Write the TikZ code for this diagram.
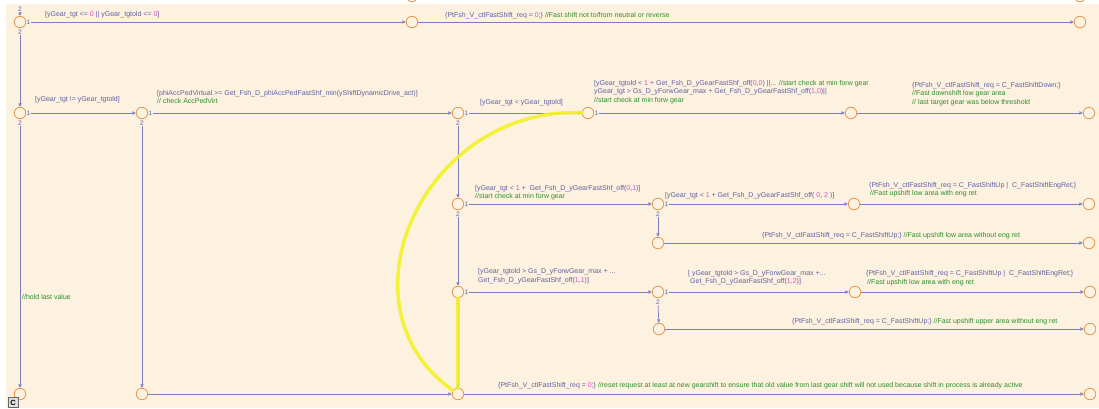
\documentclass[tikz,border=0pt]{standalone}
\usepackage{fontspec}
\setmainfont{Liberation Sans}
\usetikzlibrary{arrows.meta}
\definecolor{bgc}{HTML}{FDF2DF}
\definecolor{lc}{RGB}{125,125,190}
\definecolor{tc}{RGB}{95,95,165}
\definecolor{gc}{RGB}{45,140,45}
\definecolor{mc}{RGB}{230,70,210}
\definecolor{jc}{RGB}{228,150,80}
\definecolor{hlc}{RGB}{242,242,40}
\newcommand{\nm}[1]{\textcolor{mc}{#1}}
\newcommand{\cm}[1]{\textcolor{gc}{#1}}
\begin{document}
\begin{tikzpicture}[x=1pt,y=-1pt,
  jn/.style={circle,draw=jc,line width=0.8pt,minimum size=11.5pt,inner sep=0pt},
  tr/.style={draw=lc,line width=0.7pt,-{Triangle[open,length=3.5pt,width=3.2pt]}},
  hl/.style={draw=hlc,line width=3.5pt,line cap=round,opacity=0.9},
  port/.style={font=\fontsize{6.5}{6.5}\selectfont,text=tc,inner sep=0.6pt},
  lab/.style={font=\fontsize{7}{8.6}\selectfont,text=tc,anchor=west,inner sep=0pt,align=left},
]
\useasboundingbox (0,0) rectangle (1099,408);
\fill[white] (0,0) rectangle (1099,408);
\fill[bgc] (6,4) rectangle (1099,408);

% junctions
\node[jn] (A) at (20,22) {};
\node[jn] (X0) at (412,-4) {};
\node[jn] (X1) at (412,22) {};
\node[jn] (Xt) at (1080,-4) {};
\node[jn] (X2) at (1080,22) {};
\node[jn] (B) at (20,113) {};
\node[jn] (C) at (142,113) {};
\node[jn] (D) at (458,113) {};
\node[jn] (E) at (588,113) {};
\node[jn] (F) at (851,113) {};
\node[jn] (G) at (1089,113) {};
\node[jn] (L) at (458,204) {};
\node[jn] (M) at (658,204) {};
\node[jn] (N) at (854,204) {};
\node[jn] (O) at (1089,204) {};
\node[jn] (P) at (658,243) {};
\node[jn] (Q) at (1089,243) {};
\node[jn] (R) at (458,292) {};
\node[jn] (S) at (658,292) {};
\node[jn] (T) at (855,292) {};
\node[jn] (U) at (1090,292) {};
\node[jn] (V) at (659,329) {};
\node[jn] (W) at (1090,329) {};
\node[jn] (H) at (20,394) {};
\node[jn] (I) at (142,394) {};
\node[jn] (J) at (458,394) {};
\node[jn] (K) at (1090,394) {};

% port labels
\node[port] (top2) at (20,9) {2};
\node[port] (A1) at (28.5,22) {1};
\node[port] (A2) at (20,32) {2};
\node[port] (B1) at (28.5,113) {1};
\node[port] (B2) at (20,123) {2};
\node[port] (C1) at (150.5,113) {1};
\node[port] (C2) at (142,123) {2};
\node[port] (D1) at (466.5,113) {1};
\node[port] (D2) at (458,123) {2};
\node[port] (E1) at (596.5,113) {1};
\node[port] (L1) at (466.5,204) {1};
\node[port] (L2) at (458,214) {2};
\node[port] (M1) at (666.5,204) {1};
\node[port] (M2) at (658,214) {2};
\node[port] (R1) at (466.5,292) {1};
\node[port] (R2) at (458,302) {2};
\node[port] (S1) at (666.5,292) {1};
\node[port] (S2) at (658,302) {2};
\node[port] (J2) at (458,386) {2};

% transitions
\draw[tr] (top2) -- (A);
\draw[tr] (A1) -- (X1);
\draw[tr] (X1) -- (X2);
\draw[tr] (A2) -- (B);
\draw[tr] (B1) -- (C);
\draw[tr] (C1) -- (D);
\draw[tr] (D1) -- (E);
\draw[tr] (E1) -- (F);
\draw[tr] (F) -- (G);
\draw[tr] (B2) -- (H);
\draw[tr] (C2) -- (I);
\draw[tr] (I) -- (J);
\draw[tr] (J) -- (K);
\draw[tr] (D2) -- (L);
\draw[tr] (L1) -- (M);
\draw[tr] (M1) -- (N);
\draw[tr] (N) -- (O);
\draw[tr] (M2) -- (P);
\draw[tr] (P) -- (Q);
\draw[tr] (L2) -- (R);
\draw[tr] (R1) -- (S);
\draw[tr] (S1) -- (T);
\draw[tr] (T) -- (U);
\draw[tr] (S2) -- (V);
\draw[tr] (V) -- (W);
\draw[tr] (R2) -- (J);

% labels
\node[lab] (t1) at (45,15) {[yGear\_tgt <= \nm{0} || yGear\_tgtold <= \nm{0}]};
\node[lab] (t2) at (445,16) {\{PtFsh\_V\_ctlFastShift\_req = \nm{0};\} \cm{//Fast shift not to/from neutral or reverse}};
\node[lab] (t3) at (35,100) {[yGear\_tgt != yGear\_tgtold]};
\node[lab] (t4) at (157,97) {[phiAccPedVirtual >= Get\_Fsh\_D\_phiAccPedFastShf\_min(yShiftDynamicDrive\_act)]\\\cm{// check AccPedVirt}};
\node[lab] (t5) at (480,103) {[yGear\_tgt < yGear\_tgtold]};
\node[lab] (t6) at (594,92) {[yGear\_tgtold < \nm{1} + Get\_Fsh\_D\_yGearFastShf\_off(\nm{0},\nm{0}) ||... \cm{//start check at min forw gear}\\yGear\_tgt > Gs\_D\_yForwGear\_max + Get\_Fsh\_D\_yGearFastShf\_off(\nm{1},\nm{0})||\\\cm{//start check at min forw gear}};
\node[lab] (t7) at (912,94) {\{PtFsh\_V\_ctlFastShift\_req = C\_FastShiftDown;\}\\\cm{//Fast downshift low gear area}\\\cm{// last target gear was below threshold}};
\node[lab] (t8) at (22,297) {\cm{//hold last value}};
\node[lab] (t9) at (475,192.5) {[yGear\_tgt < \nm{1} +\ \ Get\_Fsh\_D\_yGearFastShf\_off(\nm{0},\nm{1})]\\\cm{//start check at min forw gear}};
\node[lab] (t10) at (665,196) {[yGear\_tgt < \nm{1} + Get\_Fsh\_D\_yGearFastShf\_off( \nm{0}, \nm{2} )]};
\node[lab] (t11) at (869,189.5) {\{PtFsh\_V\_ctlFastShift\_req = C\_FastShiftUp |\ \ C\_FastShiftEngRet;\}\\\hspace{1pt}\cm{//Fast upshift low area with eng ret}};
\node[lab] (t12) at (762,236) {\{PtFsh\_V\_ctlFastShift\_req = C\_FastShiftUp;\} \cm{//Fast upshift low area without eng ret}};
\node[lab] (t13) at (478,276) {[yGear\_tgtold > Gs\_D\_yForwGear\_max + ...\\Get\_Fsh\_D\_yGearFastShf\_off(\nm{1},\nm{1})]};
\node[lab] (t14) at (688,277.5) {[ yGear\_tgtold > Gs\_D\_yForwGear\_max +...\\\hspace{2pt}Get\_Fsh\_D\_yGearFastShf\_off(\nm{1},\nm{2})]};
\node[lab] (t15) at (866,278) {\{PtFsh\_V\_ctlFastShift\_req = C\_FastShiftUp |\ \ C\_FastShiftEngRet;\}\\\hspace{1pt}\cm{//Fast upshift low area with eng ret}};
\node[lab] (t16) at (792,322) {\{PtFsh\_V\_ctlFastShift\_req = C\_FastShiftUp;\} \cm{//Fast upshift upper area without eng ret}};
\node[lab] (t17) at (498,386) {\{PtFsh\_V\_ctlFastShift\_req = \nm{0};\} \cm{//reset request at least at new gearshift to ensure that old value from last gear shift will not used because shift in process is already active}};

% highlight
\draw[hl] (E) .. controls (425,106) and (332,305) .. (J);
\draw[hl] (R) -- (J);

% chart icon
\node[draw=gray!80!black,fill=gray!25,font=\fontsize{7.5}{7.5}\bfseries\selectfont,minimum size=10pt,inner sep=0pt] (icon) at (13,402.5) {C};
\end{tikzpicture}
\end{document}
